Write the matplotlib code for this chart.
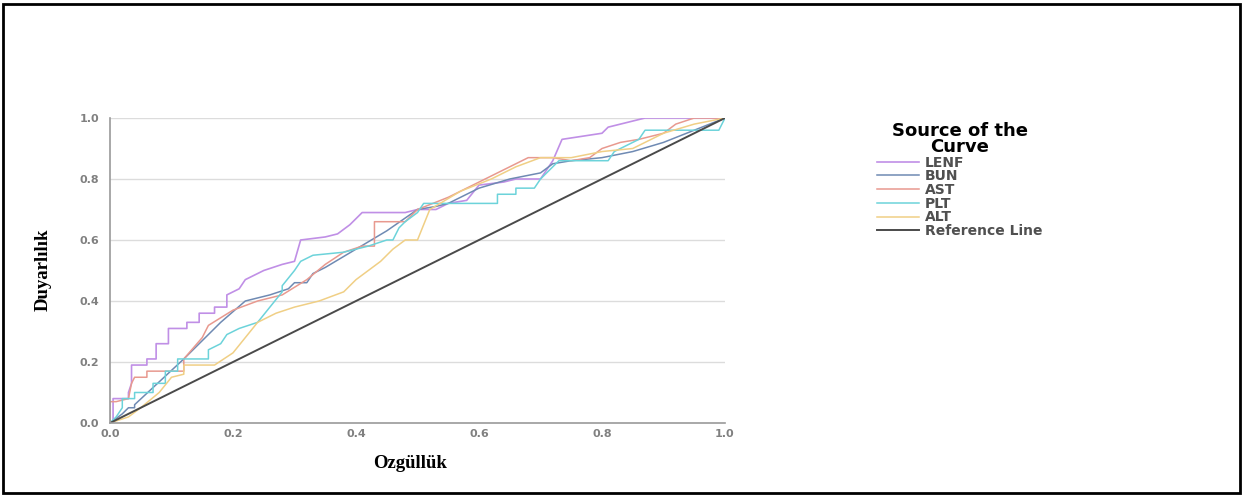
import matplotlib
matplotlib.use("Agg")
import matplotlib.pyplot as plt
from matplotlib.patches import Rectangle

# ROC curve vertices (1 - specificity, sensitivity)
lenf_fpr = [0, 0.005, 0.005, 0.03, 0.03, 0.035, 0.035, 0.06, 0.06, 0.075, 0.075, 0.095, 0.095,
            0.125, 0.125, 0.145, 0.145, 0.17, 0.17, 0.19, 0.19, 0.21, 0.22, 0.25, 0.28, 0.30,
            0.31, 0.35, 0.37, 0.39, 0.41, 0.48, 0.50, 0.53, 0.55, 0.58, 0.60, 0.64, 0.66, 0.70,
            0.72, 0.735, 0.80, 0.81, 0.87, 1.0]
lenf_tpr = [0, 0, 0.08, 0.08, 0.10, 0.13, 0.19, 0.19, 0.21, 0.21, 0.26, 0.26, 0.31,
            0.31, 0.33, 0.33, 0.36, 0.36, 0.38, 0.38, 0.42, 0.44, 0.47, 0.50, 0.52, 0.53,
            0.60, 0.61, 0.62, 0.65, 0.69, 0.69, 0.70, 0.70, 0.72, 0.73, 0.78, 0.79, 0.80, 0.80,
            0.86, 0.93, 0.95, 0.97, 1.0, 1.0]

bun_fpr = [0, 0.02, 0.03, 0.04, 0.04, 0.12, 0.18, 0.22, 0.26, 0.29, 0.30, 0.32, 0.33, 0.35,
           0.40, 0.45, 0.50, 0.53, 0.55, 0.60, 0.65, 0.70, 0.72, 0.75, 0.80, 0.85, 0.90, 0.95, 1.0]
bun_tpr = [0, 0.03, 0.05, 0.05, 0.06, 0.21, 0.33, 0.40, 0.42, 0.44, 0.46, 0.46, 0.49, 0.51,
           0.57, 0.63, 0.70, 0.71, 0.72, 0.77, 0.80, 0.82, 0.85, 0.86, 0.87, 0.89, 0.92, 0.96, 1.0]

ast_fpr = [0, 0, 0.01, 0.03, 0.035, 0.04, 0.06, 0.06, 0.12, 0.12, 0.15, 0.16, 0.20, 0.24, 0.28,
           0.32, 0.35, 0.38, 0.41, 0.43, 0.43, 0.48, 0.50, 0.55, 0.60, 0.65, 0.68, 0.72, 0.75,
           0.78, 0.80, 0.83, 0.86, 0.90, 0.92, 0.95, 1.0]
ast_tpr = [0, 0.07, 0.07, 0.08, 0.13, 0.15, 0.15, 0.17, 0.17, 0.21, 0.28, 0.32, 0.37, 0.40, 0.42,
           0.47, 0.52, 0.56, 0.58, 0.58, 0.66, 0.66, 0.70, 0.74, 0.79, 0.84, 0.87, 0.87, 0.86,
           0.87, 0.90, 0.92, 0.93, 0.95, 0.98, 1.0, 1.0]

plt_fpr = [0, 0.01, 0.02, 0.02, 0.04, 0.04, 0.07, 0.07, 0.09, 0.09, 0.11, 0.11, 0.16, 0.16, 0.18,
           0.19, 0.21, 0.24, 0.26, 0.28, 0.28, 0.30, 0.31, 0.33, 0.38, 0.42, 0.45, 0.46, 0.47,
           0.48, 0.50, 0.51, 0.63, 0.63, 0.66, 0.66, 0.69, 0.70, 0.71, 0.72, 0.73, 0.81, 0.82,
           0.85, 0.86, 0.87, 0.99, 1.0]
plt_tpr = [0, 0.02, 0.05, 0.08, 0.08, 0.10, 0.10, 0.13, 0.13, 0.17, 0.17, 0.21, 0.21, 0.24, 0.26,
           0.29, 0.31, 0.33, 0.38, 0.43, 0.45, 0.50, 0.53, 0.55, 0.56, 0.58, 0.60, 0.60, 0.64,
           0.66, 0.69, 0.72, 0.72, 0.75, 0.75, 0.77, 0.77, 0.80, 0.82, 0.84, 0.86, 0.86, 0.89,
           0.92, 0.93, 0.96, 0.96, 1.0]

alt_fpr = [0, 0.03, 0.05, 0.08, 0.10, 0.12, 0.12, 0.17, 0.20, 0.22, 0.24, 0.27, 0.30, 0.34,
           0.38, 0.40, 0.42, 0.44, 0.46, 0.48, 0.50, 0.51, 0.52, 0.57, 0.62, 0.66, 0.70, 0.75,
           0.80, 0.85, 0.88, 0.90, 0.95, 1.0]
alt_tpr = [0, 0.02, 0.05, 0.10, 0.15, 0.16, 0.19, 0.19, 0.23, 0.28, 0.33, 0.36, 0.38, 0.40,
           0.43, 0.47, 0.50, 0.53, 0.57, 0.60, 0.60, 0.65, 0.70, 0.76, 0.80, 0.84, 0.87, 0.87,
           0.89, 0.90, 0.93, 0.95, 0.98, 1.0]

ref_x = [0, 1]
ref_y = [0, 1]

ticks = [0.0, 0.2, 0.4, 0.6, 0.8, 1.0]
tick_labels = ["0.0", "0.2", "0.4", "0.6", "0.8", "1.0"]

fig = plt.figure(figsize=(12.43, 4.96), dpi=100)
ax = fig.add_axes([110 / 1243, 73 / 496, 615 / 1243, 305 / 496])

for y in ticks[1:]:
    ax.axhline(y, color="#dcdcdc", lw=1.0, zorder=0)

ax.plot(lenf_fpr, lenf_tpr, color="#c08fe6", lw=1.2, label="LENF")
ax.plot(bun_fpr, bun_tpr, color="#6f8ab3", lw=1.1, label="BUN")
ax.plot(ast_fpr, ast_tpr, color="#e8998f", lw=1.1, label="AST")
ax.plot(plt_fpr, plt_tpr, color="#6cd3da", lw=1.1, label="PLT")
ax.plot(alt_fpr, alt_tpr, color="#f0cf85", lw=1.1, label="ALT")
ax.plot(ref_x, ref_y, color="#4a4a4a", lw=1.4, label="Reference Line")

ax.set_xlim(0, 1)
ax.set_ylim(0, 1)
ax.set_xticks(ticks)
ax.set_yticks(ticks)
ax.set_xticklabels(tick_labels)
ax.set_yticklabels(tick_labels)
ax.tick_params(length=0, colors="#808080", labelsize=8)
ax.tick_params(axis="y", pad=8)
ax.tick_params(axis="x", pad=4)
for lab in ax.get_xticklabels() + ax.get_yticklabels():
    lab.set_fontweight("bold")
for s in ["top", "right"]:
    ax.spines[s].set_visible(False)
for s in ["left", "bottom"]:
    ax.spines[s].set_color("#9a9a9a")
    ax.spines[s].set_linewidth(1.2)

leg = fig.legend(loc="upper left", bbox_to_anchor=(870 / 1243, 1 - 115 / 496),
                 frameon=False, title="Source of the\nCurve",
                 prop={"size": 10, "weight": "bold"}, handlelength=3.0,
                 handletextpad=0.45, labelspacing=-0.02, borderpad=0)
title = leg.get_title()
title.set_fontsize(13)
title.set_fontweight("bold")
title.set_multialignment("center")
title.set_linespacing(0.85)
for t in leg.get_texts():
    t.set_color("#505050")

fig.text(43 / 1243, 1 - 270 / 496, "Duyarlılık", rotation=90, ha="center", va="center",
         family="Liberation Serif", fontweight="bold", fontsize=13.5)
fig.text(410 / 1243, 1 - 463 / 496, "Ozgüllük", ha="center", va="center",
         family="Liberation Serif", fontweight="bold", fontsize=13.5)

fig.patches.append(Rectangle((3 / 1243, 3 / 496), 1237 / 1243, 489 / 496,
                             transform=fig.transFigure, fill=False,
                             edgecolor="black", lw=2))

fig.savefig("out.png", dpi=100)
